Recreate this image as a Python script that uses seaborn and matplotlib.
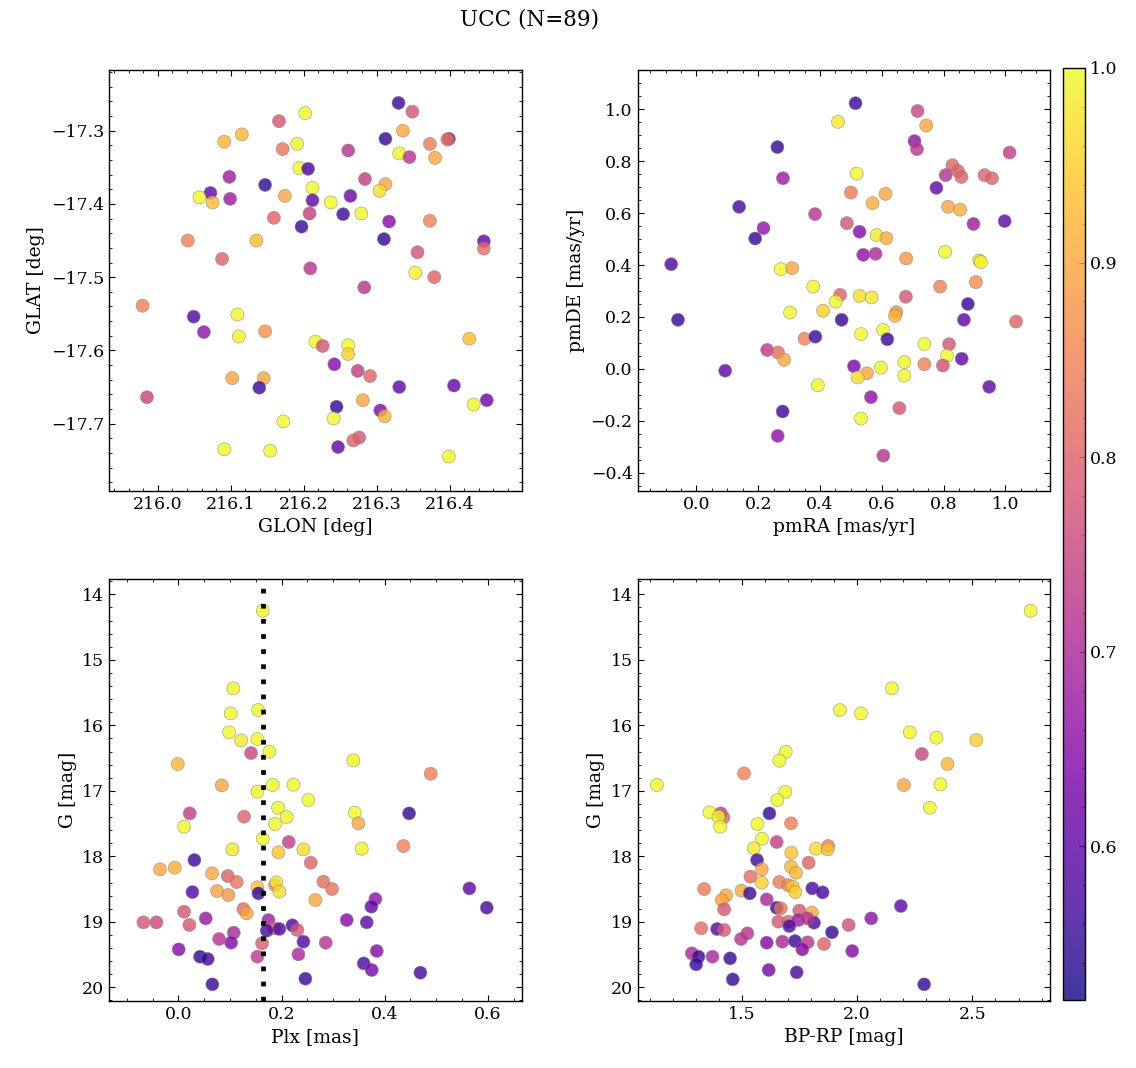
import numpy as np
import pandas as pd
import matplotlib
matplotlib.use("Agg")
import matplotlib.pyplot as plt
import matplotlib.colors as mcolors
import matplotlib.cm as cm
from matplotlib.ticker import MultipleLocator
import seaborn as sns

# --- data: one set of arrays per panel ---
# top left: galactic coordinates
tl_glon = [216.202, 216.166, 216.115, 216.091, 216.191, 216.171, 216.194, 216.206, 216.098, 216.147,
           216.212, 216.072, 216.057, 216.075, 216.099, 216.174, 216.212, 216.208, 216.159, 216.197,
           216.041, 216.135, 216.088, 216.209, 216.330, 216.349, 216.336, 216.312, 216.373, 216.399,
           216.397, 216.331, 216.345, 216.380, 216.261, 216.284, 216.312, 216.304, 216.237, 216.264,
           216.254, 216.279, 216.317, 216.373, 216.310, 216.447, 216.447, 216.356, 216.353, 216.379,
           215.979, 216.049, 216.063, 216.109, 216.111, 216.147, 216.216, 215.985, 216.102, 216.145,
           216.139, 216.172, 216.091, 216.154, 216.283, 216.226, 216.261, 216.261, 216.242, 216.274,
           216.291, 216.331, 216.427, 216.406, 216.433, 216.451, 216.281, 216.245, 216.241, 216.305,
           216.311, 216.276, 216.268, 216.247, 216.399]
tl_glat = [-17.276, -17.287, -17.305, -17.315, -17.318, -17.325, -17.351, -17.352, -17.363, -17.374,
           -17.378, -17.385, -17.391, -17.398, -17.393, -17.389, -17.395, -17.413, -17.419, -17.431,
           -17.450, -17.450, -17.475, -17.488, -17.262, -17.274, -17.300, -17.311, -17.318, -17.311,
           -17.312, -17.331, -17.336, -17.337, -17.327, -17.366, -17.373, -17.382, -17.398, -17.389,
           -17.414, -17.413, -17.424, -17.423, -17.448, -17.451, -17.461, -17.466, -17.494, -17.500,
           -17.539, -17.554, -17.575, -17.551, -17.581, -17.574, -17.588, -17.664, -17.638, -17.638,
           -17.651, -17.697, -17.735, -17.737, -17.514, -17.594, -17.593, -17.605, -17.619, -17.628,
           -17.635, -17.650, -17.584, -17.648, -17.674, -17.668, -17.668, -17.677, -17.693, -17.682,
           -17.690, -17.719, -17.723, -17.732, -17.745]
tl_prob = [1.0, 0.78, 0.92, 0.92, 1.0, 0.83, 1.0, 0.57, 0.68, 0.55,
           1.0, 0.60, 1.0, 0.93, 0.68, 0.90, 0.60, 0.74, 0.80, 0.56,
           0.85, 0.93, 0.80, 0.72, 0.56, 0.78, 0.90, 0.55, 0.84, 0.62,
           0.83, 1.0, 0.72, 0.90, 0.72, 0.74, 0.90, 0.97, 1.0, 0.62,
           0.56, 1.0, 0.65, 0.85, 0.55, 0.60, 0.82, 0.77, 1.0, 0.80,
           0.85, 0.58, 0.66, 1.0, 1.0, 0.87, 1.0, 0.75, 0.90, 0.90,
           0.56, 1.0, 1.0, 1.0, 0.72, 0.78, 1.0, 0.95, 0.65, 0.74,
           0.80, 0.60, 0.93, 0.60, 1.0, 0.62, 0.90, 0.55, 1.0, 0.64,
           0.92, 0.78, 0.80, 0.60, 1.0]

# top right: proper motions
tr_pmra = [0.262, 0.280, 0.138, 0.217, 0.190, -0.082, 0.273, 0.310, 0.384, 0.515,
           0.458, 0.716, 0.744, 0.706, 0.714, 1.014, 0.519, 0.829, 0.847, 0.858,
           0.807, 0.933, 0.957, 0.777, 0.500, 0.570, 0.612, 0.815, 0.854, 0.487,
           0.528, 0.583, 0.615, 0.897, 0.998, 0.540, 0.580, 0.679, 0.805, 0.916,
           0.921, 0.905, 0.378, -0.060, 0.303, 0.410, 0.350, 0.385, 0.229, 0.264,
           0.284, 0.093, 0.393, 0.279, 0.263, 0.465, 0.451, 0.470, 0.528, 0.567,
           0.678, 0.789, 0.879, 0.866, 1.035, 0.647, 0.643, 0.533, 0.604, 0.618,
           0.738, 0.818, 0.811, 0.859, 0.798, 0.738, 0.673, 0.673, 0.597, 0.510,
           0.552, 0.522, 0.948, 0.565, 0.657, 0.533, 0.605]
tr_pmde = [0.854, 0.734, 0.624, 0.542, 0.502, 0.403, 0.384, 0.388, 0.596, 1.023,
           0.951, 0.993, 0.937, 0.877, 0.846, 0.833, 0.752, 0.784, 0.762, 0.739,
           0.746, 0.746, 0.734, 0.697, 0.679, 0.638, 0.674, 0.624, 0.613, 0.561,
           0.528, 0.515, 0.503, 0.558, 0.569, 0.439, 0.443, 0.425, 0.451, 0.417,
           0.411, 0.334, 0.317, 0.189, 0.217, 0.224, 0.116, 0.124, 0.073, 0.063,
           0.035, -0.007, -0.063, -0.164, -0.258, 0.285, 0.259, 0.189, 0.281, 0.275,
           0.278, 0.317, 0.250, 0.189, 0.182, 0.218, 0.204, 0.134, 0.150, 0.114,
           0.096, 0.095, 0.051, 0.039, 0.013, 0.018, 0.026, -0.026, 0.005, 0.010,
           -0.017, -0.033, -0.069, -0.109, -0.151, -0.191, -0.334]
tr_prob = [0.55, 0.68, 0.57, 0.66, 0.55, 0.58, 1.0, 0.90, 0.72, 0.56,
           0.98, 0.75, 0.90, 0.66, 0.72, 0.74, 1.0, 0.80, 0.80, 0.80,
           0.72, 0.80, 0.80, 0.60, 0.84, 0.91, 0.90, 0.90, 0.91, 0.78,
           0.65, 0.98, 0.91, 0.68, 0.60, 0.66, 0.70, 0.88, 1.0, 0.95,
           1.0, 0.87, 1.0, 0.55, 1.0, 0.95, 0.85, 0.56, 0.73, 0.82,
           0.90, 0.60, 1.0, 0.56, 0.66, 0.80, 1.0, 0.55, 0.97, 0.98,
           0.78, 0.85, 0.55, 0.60, 0.80, 0.86, 0.92, 1.0, 1.0, 0.55,
           1.0, 0.78, 1.0, 0.60, 0.77, 0.85, 1.0, 1.0, 1.0, 0.63,
           0.90, 0.97, 0.60, 0.66, 0.78, 1.0, 0.72]

# bottom left: parallax vs G
bl_plx = [0.1636, 0.1067, 0.1015, 0.1545, 0.0983, 0.1215, 0.1532, 0.1409, 0.1765, -0.0013,
          0.3394, 0.4894, 0.0841, 0.1830, 0.2231, 0.1532, 0.2521, 0.0220, 0.1933, 0.3420,
          0.4474, 0.1274, 0.2101, 0.1875, 0.3491, 0.0110, 0.1636, 0.2140, 0.1047, 0.1940,
          0.2425, 0.3556, 0.4364, 0.0310, 0.2567, -0.0356, -0.0071, 0.0653, 0.0957, 0.1131,
          0.0272, 0.0750, 0.0970, 0.1532, 0.1552, 0.1875, 0.1901, 0.1959, 0.2812, 0.2980,
          0.2657, 0.1261, 0.1325, 0.3821, 0.3743, 0.5644, 0.5981, 0.0110, 0.0213, -0.0679,
          -0.0427, 0.0530, 0.1746, 0.1862, 0.1959, 0.1713, 0.2211, 0.2308, 0.3265, 0.3653,
          0.1073, 0.1022, 0.0789, 0.0006, 0.0420, 0.0569, 0.0659, 0.1623, 0.1532, 0.2425,
          0.2858, 0.2328, 0.2463, 0.3847, 0.3595, 0.3750, 0.4694]
bl_g = [14.249, 15.435, 15.817, 15.766, 16.107, 16.229, 16.209, 16.422, 16.402, 16.590,
        16.534, 16.738, 16.916, 16.911, 16.906, 17.013, 17.140, 17.344, 17.257, 17.333,
        17.344, 17.394, 17.399, 17.506, 17.496, 17.547, 17.730, 17.781, 17.893, 17.939,
        17.893, 17.883, 17.842, 18.056, 18.097, 18.198, 18.173, 18.260, 18.300, 18.392,
        18.545, 18.529, 18.590, 18.473, 18.565, 18.438, 18.397, 18.539, 18.387, 18.499,
        18.667, 18.804, 18.870, 18.651, 18.768, 18.489, 18.784, 18.845, 19.048, 19.008,
        19.008, 18.947, 18.972, 19.099, 19.109, 19.135, 19.053, 19.125, 18.972, 19.008,
        19.165, 19.318, 19.262, 19.420, 19.532, 19.567, 19.954, 19.328, 19.532, 19.303,
        19.318, 19.496, 19.868, 19.445, 19.634, 19.735, 19.776]
bl_prob = [1.0, 1.0, 1.0, 1.0, 1.0, 0.98, 1.0, 0.75, 1.0, 0.92,
           1.0, 0.85, 0.90, 1.0, 1.0, 1.0, 1.0, 0.74, 1.0, 1.0,
           0.55, 0.80, 1.0, 1.0, 0.90, 1.0, 1.0, 0.74, 0.98, 0.94,
           0.97, 1.0, 0.85, 0.56, 0.80, 0.90, 0.91, 0.90, 0.80, 0.83,
           0.58, 0.90, 0.88, 0.94, 0.55, 0.85, 0.98, 0.97, 0.82, 0.83,
           0.90, 0.82, 0.90, 0.66, 0.60, 0.60, 0.57, 0.78, 0.78, 0.78,
           0.76, 0.67, 0.68, 0.80, 0.58, 0.57, 0.58, 0.78, 0.65, 0.60,
           0.70, 0.64, 0.72, 0.65, 0.55, 0.56, 0.55, 0.79, 0.73, 0.58,
           0.72, 0.70, 0.56, 0.65, 0.58, 0.63, 0.57]
plx_line = 0.1636

# bottom right: colour-magnitude diagram
br_bprp = [2.7525, 2.1508, 1.9257, 2.0166, 2.2287, 2.3442, 2.5173, 2.2807, 2.3919, 2.2027,
           2.3615, 2.3153, 1.6905, 1.6631, 1.5101, 1.6890, 1.6544, 1.1320, 1.3600, 1.4091,
           1.4206, 1.3990, 1.4062, 1.6198, 1.7136, 1.5678, 1.5880, 1.6515, 1.5519, 1.7150,
           1.8218, 1.8752, 1.8723, 1.5664, 1.7900, 1.5866, 1.7136, 1.7352, 1.5375, 1.6631,
           1.5866, 1.7005, 1.7208, 1.7323, 1.3369, 1.4986, 1.5346, 1.4322, 1.4134, 1.8059,
           1.8506, 1.6082, 1.6515, 1.6688, 1.4235, 1.7496, 1.8045, 2.1898, 2.0613, 1.9632,
           1.6587, 1.7020, 1.7453, 1.7063, 1.8131, 1.7843, 1.8911, 1.3240, 1.3932, 1.4235,
           1.5245, 1.4971, 1.6082, 1.6760, 1.7309, 1.7857, 1.8564, 1.7626, 1.9791, 1.2835,
           1.3124, 1.3023, 1.3730, 1.4495, 1.4610, 1.6169, 1.7381, 2.2908]
br_g = [14.249, 15.435, 15.766, 15.817, 16.107, 16.188, 16.224, 16.438, 16.590, 16.911,
        16.901, 17.257, 16.402, 16.539, 16.733, 17.013, 17.140, 16.911, 17.328, 17.344,
        17.405, 17.394, 17.547, 17.344, 17.496, 17.506, 17.730, 17.781, 17.878, 17.944,
        17.883, 17.842, 17.893, 18.056, 18.097, 18.198, 18.158, 18.249, 18.310, 18.392,
        18.402, 18.438, 18.463, 18.545, 18.499, 18.524, 18.565, 18.595, 18.667, 18.489,
        18.550, 18.657, 18.784, 18.794, 18.809, 18.829, 18.860, 18.758, 18.947, 19.048,
        18.997, 18.997, 18.972, 19.064, 19.013, 18.947, 19.160, 19.099, 19.109, 19.125,
        19.175, 19.262, 19.318, 19.303, 19.293, 19.313, 19.338, 19.420, 19.445, 19.481,
        19.532, 19.649, 19.532, 19.557, 19.878, 19.735, 19.771, 19.954]
br_prob = [1.0, 1.0, 1.0, 1.0, 1.0, 1.0, 0.95, 0.75, 0.92, 0.90,
           1.0, 1.0, 1.0, 1.0, 0.85, 1.0, 1.0, 1.0, 1.0, 0.74,
           0.80, 1.0, 1.0, 0.55, 0.85, 1.0, 1.0, 0.74, 0.98, 0.94,
           0.97, 0.85, 0.94, 0.56, 0.80, 0.90, 0.92, 0.92, 0.82, 0.84,
           0.95, 0.85, 0.94, 0.95, 0.84, 0.90, 0.56, 0.90, 0.90, 0.58,
           0.57, 0.70, 0.56, 0.83, 0.78, 0.78, 0.90, 0.60, 0.66, 0.77,
           0.78, 0.80, 0.68, 0.58, 0.58, 0.72, 0.55, 0.82, 0.58, 0.78,
           0.72, 0.72, 0.64, 0.70, 0.56, 0.72, 0.80, 0.65, 0.65, 0.70,
           0.56, 0.56, 0.70, 0.55, 0.55, 0.63, 0.57, 0.55]

prob_min, prob_max = 0.521, 1.0

# --- style ---
sns.set_style("ticks")
plt.rcParams['font.family'] = ['DejaVu Serif']
plt.rcParams.update({
    'font.size': 12,
    'axes.labelsize': 13.5,
    'xtick.labelsize': 12.5,
    'ytick.labelsize': 12.5,
    'text.color': 'black', 'axes.labelcolor': 'black',
    'xtick.color': 'black', 'ytick.color': 'black',
    'axes.edgecolor': 'black',
    'axes.linewidth': 1.0,
    'xtick.direction': 'in', 'ytick.direction': 'in',
    'xtick.top': True, 'ytick.right': True,
    'xtick.minor.visible': True, 'ytick.minor.visible': True,
    'xtick.major.size': 4, 'ytick.major.size': 4,
    'xtick.minor.size': 2, 'ytick.minor.size': 2,
    'xtick.major.width': 0.8, 'ytick.major.width': 0.8,
    'xtick.minor.width': 0.6, 'ytick.minor.width': 0.6,
    'axes.unicode_minus': True,
})

fig = plt.figure(figsize=(11.36, 10.68), dpi=100)
ax_tl = fig.add_axes([0.0960, 0.5403, 0.3633, 0.3942])
ax_tr = fig.add_axes([0.5612, 0.5403, 0.3634, 0.3942])
ax_bl = fig.add_axes([0.0960, 0.0627, 0.3633, 0.3948])
ax_br = fig.add_axes([0.5612, 0.0627, 0.3634, 0.3948])
cax = fig.add_axes([0.9360, 0.0637, 0.0191, 0.8727])

pts = dict(palette='plasma', hue_norm=(prob_min, prob_max), s=88, alpha=0.8,
           edgecolor='grey', linewidth=0.4, legend=False)


def panel(ax, x, y, p, xlabel, ylabel):
    df = pd.DataFrame({'x': x, 'y': y, 'p': p})
    sns.scatterplot(data=df, x='x', y='y', hue='p', ax=ax, **pts)
    ax.set_xlabel(xlabel)
    ax.set_ylabel(ylabel)


panel(ax_tl, tl_glon, tl_glat, tl_prob, 'GLON [deg]', 'GLAT [deg]')
ax_tl.set_xlim(215.933, 216.499)
ax_tl.set_ylim(-17.792, -17.217)
ax_tl.xaxis.set_major_locator(MultipleLocator(0.1))
ax_tl.yaxis.set_major_locator(MultipleLocator(0.1))

panel(ax_tr, tr_pmra, tr_pmde, tr_prob, 'pmRA [mas/yr]', 'pmDE [mas/yr]')
ax_tr.set_xlim(-0.191, 1.146)
ax_tr.set_ylim(-0.470, 1.151)
ax_tr.xaxis.set_major_locator(MultipleLocator(0.2))
ax_tr.yaxis.set_major_locator(MultipleLocator(0.2))

panel(ax_bl, bl_plx, bl_g, bl_prob, 'Plx [mas]', 'G [mag]')
ax_bl.axvline(plx_line, color='black', lw=3.4, ls=(0, (1, 2.2)), zorder=5)
ax_bl.set_xlim(-0.1345, 0.666)
ax_bl.set_ylim(20.209, 13.771)
ax_bl.xaxis.set_major_locator(MultipleLocator(0.2))
ax_bl.yaxis.set_major_locator(MultipleLocator(1))

panel(ax_br, br_bprp, br_g, br_prob, 'BP-RP [mag]', 'G [mag]')
ax_br.set_xlim(1.048, 2.838)
ax_br.set_ylim(20.209, 13.771)
ax_br.xaxis.set_major_locator(MultipleLocator(0.5))
ax_br.yaxis.set_major_locator(MultipleLocator(1))

sm = cm.ScalarMappable(norm=mcolors.Normalize(prob_min, prob_max), cmap='plasma')
cb = fig.colorbar(sm, cax=cax, alpha=0.8)
cb.set_ticks([0.6, 0.7, 0.8, 0.9, 1.0])
cb.ax.minorticks_on()
cb.ax.tick_params(which='both', direction='in', right=True, left=False)
cb.outline.set_linewidth(1.0)

fig.text(0.4663, 0.9816, 'UCC (N=89)', ha='center', va='center', fontsize=15.5)

fig.savefig('out.png', dpi=100)
